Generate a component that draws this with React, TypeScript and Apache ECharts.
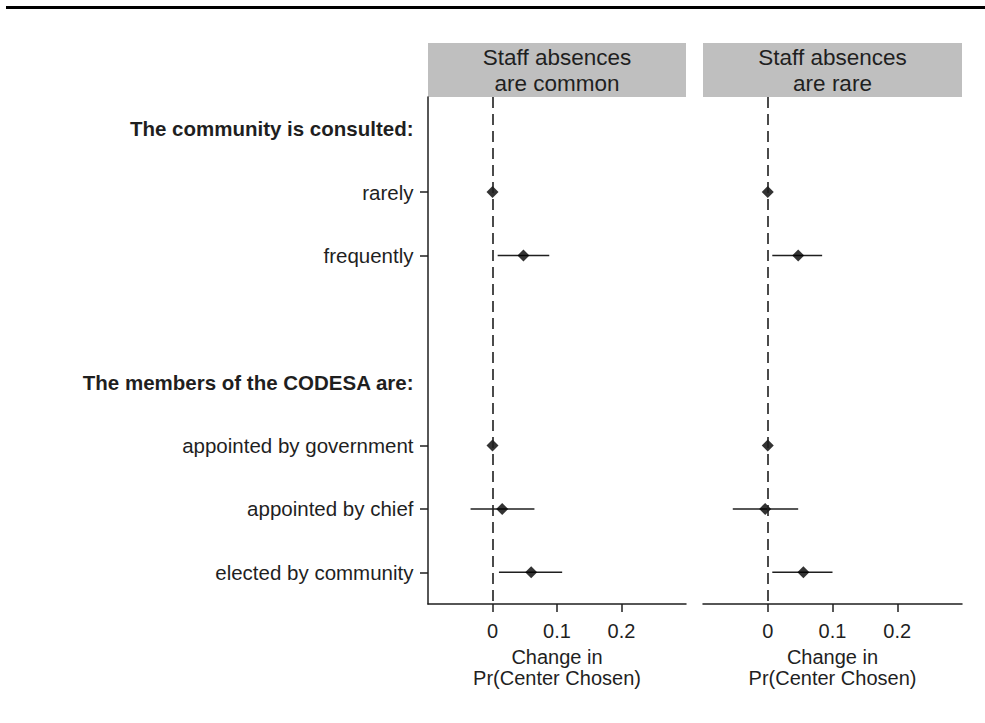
import React, { useEffect, useRef } from "react";
import * as echarts from "echarts";

// Row labels, top to bottom; bold rows are group headings
const rowLabels = [
  "The community is consulted:",
  "rarely",
  "frequently",
  "",
  "The members of the CODESA are:",
  "appointed by government",
  "appointed by chief",
  "elected by community",
];
const headingRows = ["The community is consulted:", "The members of the CODESA are:"];

// Panel titles
const panelTitles = ["Staff absences\nare common", "Staff absences\nare rare"];

// Point estimates and 95% intervals (null = no mark on that row)
const commonEst = [null, 0, 0.048, null, null, 0, 0.015, 0.06];
const commonLo = [null, null, 0.008, null, null, null, -0.034, 0.01];
const commonHi = [null, null, 0.088, null, null, null, 0.065, 0.108];

const rareEst = [null, 0, 0.047, null, null, 0, -0.004, 0.055];
const rareLo = [null, null, 0.007, null, null, null, -0.054, 0.007];
const rareHi = [null, null, 0.084, null, null, null, 0.047, 0.1];

// x-axis ticks
const xTicks = [0, 0.1, 0.2];
const xMin = -0.1;
const xMax = 0.3;

const FONT = '"Liberation Sans", Arial, sans-serif';
const INK = "#1f1f1f";

const panels = [
  { left: 428, width: 258 },
  { left: 703, width: 259 },
];
const GRID_TOP = 97;
const GRID_H = 507;

export default function App() {
  const ref = useRef<HTMLDivElement>(null);

  useEffect(() => {
    if (!ref.current) return;
    const chart = echarts.init(ref.current, null, { renderer: "svg" });

    const seriesSets = [
      { est: commonEst, lo: commonLo, hi: commonHi },
      { est: rareEst, lo: rareLo, hi: rareHi },
    ];

    const grids = panels.map((p) => ({
      left: p.left,
      top: GRID_TOP,
      width: p.width,
      height: GRID_H,
      containLabel: false,
    }));

    const xAxes = panels.map((_, i) => ({
      type: "value",
      gridIndex: i,
      min: xMin,
      max: xMax,
      interval: 0.1,
      splitLine: { show: false },
      axisLine: { show: true, onZero: false, lineStyle: { color: INK, width: 1.5 } },
      axisTick: {
        show: true,
        inside: false,
        customValues: xTicks,
        length: 8,
        lineStyle: { color: INK, width: 1.5 },
      },
      axisLabel: {
        customValues: xTicks,
        formatter: (v: number) => (v === 0 ? "0" : v.toFixed(1)),
        color: INK,
        fontFamily: FONT,
        fontSize: 20,
        lineHeight: 20,
        margin: 17,
      },
      name: "Change in\nPr(Center Chosen)",
      nameLocation: "middle",
      nameGap: 42,
      nameTextStyle: {
        color: INK,
        fontFamily: FONT,
        fontSize: 20,
        lineHeight: 21,
        verticalAlign: "top",
      },
    }));

    const yAxes = panels.map((_, i) => ({
      type: "category",
      gridIndex: i,
      data: rowLabels,
      inverse: true,
      boundaryGap: true,
      axisLine: { show: i === 0, onZero: false, lineStyle: { color: INK, width: 1.5 } },
      axisTick: {
        show: i === 0,
        inside: false,
        alignWithLabel: true,
        length: 8,
        interval: (idx: number, val: string) => val !== "" && !headingRows.includes(val),
        lineStyle: { color: INK, width: 1.5 },
      },
      axisLabel: {
        show: i === 0,
        interval: 0,
        margin: 14.5,
        formatter: (v: string) => (headingRows.includes(v) ? `{h|${v}}` : `{n|${v}}`),
        rich: {
          h: { fontFamily: FONT, fontSize: 20.5, fontWeight: "bold", color: INK },
          n: { fontFamily: FONT, fontSize: 20.5, color: INK },
        },
      },
      splitLine: { show: false },
    }));

    const series: any[] = [];
    seriesSets.forEach((s, i) => {
      const ciData = s.est
        .map((_, r) => (s.lo[r] !== null && s.hi[r] !== null ? [s.lo[r], s.hi[r], r] : null))
        .filter((d) => d !== null);
      series.push({
        type: "custom",
        xAxisIndex: i,
        yAxisIndex: i,
        data: ciData,
        encode: { x: [0, 1], y: 2 },
        renderItem: (params: any, api: any) => {
          const r = api.value(2);
          const a = api.coord([api.value(0), r]);
          const b = api.coord([api.value(1), r]);
          return {
            type: "line",
            shape: { x1: a[0], y1: a[1], x2: b[0], y2: b[1] },
            style: { stroke: INK, lineWidth: 1.6 },
          };
        },
        z: 3,
      });
      series.push({
        type: "scatter",
        xAxisIndex: i,
        yAxisIndex: i,
        symbol: "diamond",
        symbolSize: [12, 12],
        itemStyle: { color: "#000" },
        data: s.est
          .map((v, r) => (v !== null ? [v, r] : null))
          .filter((d) => d !== null),
        markLine: {
          silent: true,
          symbol: "none",
          label: { show: false },
          lineStyle: { color: INK, width: 1.6, type: [11, 6] },
          data: [{ xAxis: 0 }],
        },
        z: 4,
      });
    });

    const graphic: any[] = [
      {
        type: "line",
        shape: { x1: 6, y1: 7.5, x2: 985, y2: 7.5 },
        style: { stroke: "#000", lineWidth: 3 },
      },
    ];
    panels.forEach((p, i) => {
      graphic.push({
        type: "rect",
        shape: { x: p.left, y: 43, width: p.width, height: 54 },
        style: { fill: "#bfbfbf" },
      });
      graphic.push({
        type: "text",
        x: p.left + p.width / 2,
        y: 70,
        style: {
          text: panelTitles[i],
          fontFamily: FONT,
          fontSize: 22.5,
          lineHeight: 26,
          fill: INK,
          align: "center",
          verticalAlign: "middle",
        },
      });
    });

    chart.setOption({
      animation: false,
      backgroundColor: "#ffffff",
      grid: grids,
      xAxis: xAxes,
      yAxis: yAxes,
      series,
      graphic,
    });

    return () => chart.dispose();
  }, []);

  return (
    <div
      ref={ref}
      style={{ position: "absolute", left: 0, top: 0, width: 985, height: 723 }}
    />
  );
}
